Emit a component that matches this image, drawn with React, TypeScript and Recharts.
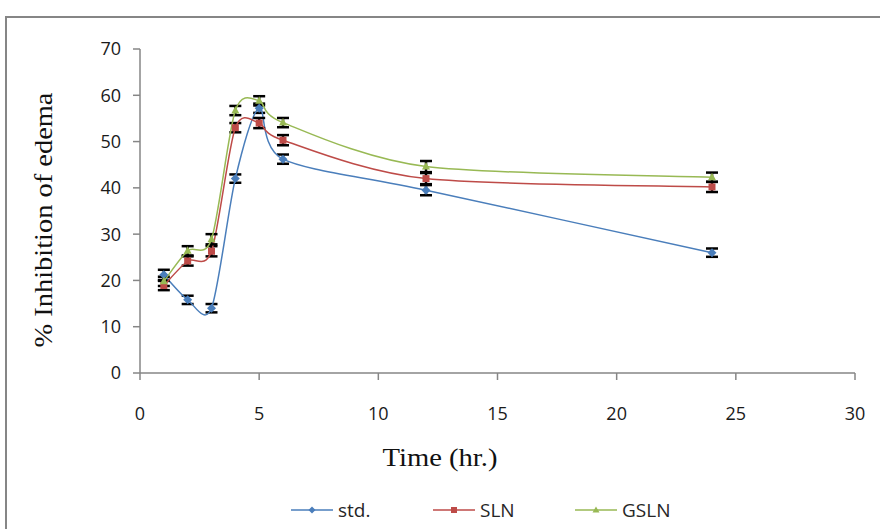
import React from "react";
import {
  ErrorBar,
  Label,
  Legend,
  Line,
  LineChart,
  XAxis,
  YAxis,
} from "recharts";

// time points (hr.)
const hours = [1, 2, 3, 4, 5, 6, 12, 24];

const stdValues = [21.2, 15.8, 14.0, 42.0, 57.2, 46.2, 39.5, 26.0];
const stdErrors = [1.1, 0.9, 0.9, 0.9, 1.0, 1.0, 1.1, 0.9];

const slnValues = [18.9, 24.2, 26.3, 53.0, 54.0, 50.3, 42.0, 40.2];
const slnErrors = [1.0, 1.0, 1.1, 1.0, 1.1, 1.1, 1.2, 1.1];

const gslnValues = [19.8, 26.4, 28.9, 56.7, 58.8, 54.1, 44.6, 42.3];
const gslnErrors = [1.0, 1.0, 1.1, 1.0, 1.0, 1.0, 1.2, 1.0];

const xTicks = [0, 5, 10, 15, 20, 25, 30];
const yTicks = [0, 10, 20, 30, 40, 50, 60, 70];

const COLORS = { std: "#4a7ebb", sln: "#be4b48", gsln: "#98b954" };
const AXIS = "#868686";
const SANS = "'Open Sans', sans-serif";
const SERIF = "'Liberation Serif', serif";

const data = hours.map((h, i) => ({
  time: h,
  std: stdValues[i],
  stdErr: stdErrors[i],
  sln: slnValues[i],
  slnErr: slnErrors[i],
  gsln: gslnValues[i],
  gslnErr: gslnErrors[i],
}));

// Excel-like smoothed line (Catmull-Rom style cubic beziers, slightly relaxed)
const SMOOTH = 0.85 / 6;
function smoothCurve(context: any) {
  let pts: number[][] = [];
  return {
    areaStart() {},
    areaEnd() {},
    lineStart() {
      pts = [];
    },
    point(x: number, y: number) {
      pts.push([+x, +y]);
    },
    lineEnd() {
      if (!pts.length) return;
      context.moveTo(pts[0][0], pts[0][1]);
      for (let i = 0; i < pts.length - 1; i++) {
        const p0 = pts[i - 1] || pts[i];
        const p1 = pts[i];
        const p2 = pts[i + 1];
        const p3 = pts[i + 2] || p2;
        context.bezierCurveTo(
          p1[0] + (p2[0] - p0[0]) * SMOOTH,
          p1[1] + (p2[1] - p0[1]) * SMOOTH,
          p2[0] - (p3[0] - p1[0]) * SMOOTH,
          p2[1] - (p3[1] - p1[1]) * SMOOTH,
          p2[0],
          p2[1]
        );
      }
    },
  };
}

const Diamond = (props: any) => {
  const { cx, cy, index } = props;
  if (cx == null || cy == null) return <g key={index} />;
  return (
    <path
      key={index}
      d={`M${cx},${cy - 4.5}L${cx + 4.5},${cy}L${cx},${cy + 4.5}L${cx - 4.5},${cy}Z`}
      fill={COLORS.std}
    />
  );
};

const Square = (props: any) => {
  const { cx, cy, index } = props;
  if (cx == null || cy == null) return <g key={index} />;
  return <rect key={index} x={cx - 3.5} y={cy - 3.5} width={7} height={7} fill={COLORS.sln} />;
};

const Triangle = (props: any) => {
  const { cx, cy, index } = props;
  if (cx == null || cy == null) return <g key={index} />;
  return (
    <path
      key={index}
      d={`M${cx},${cy - 4.5}L${cx + 4},${cy + 3}L${cx - 4},${cy + 3}Z`}
      fill={COLORS.gsln}
    />
  );
};

const legendItems = [
  { name: "std.", color: COLORS.std, shape: "diamond" },
  { name: "SLN", color: COLORS.sln, shape: "square" },
  { name: "GSLN", color: COLORS.gsln, shape: "triangle" },
];

function ChartLegend() {
  return (
    <div
      style={{
        display: "flex",
        justifyContent: "flex-start",
        paddingLeft: 291,
        fontFamily: SANS,
        fontSize: 19,
        color: "#262626",
        lineHeight: "30px",
      }}
    >
      {legendItems.map((item) => (
        <div
          key={item.name}
          style={{ display: "flex", alignItems: "center", width: 142 }}
        >
          <svg width={44} height={10} style={{ marginRight: 3 }}>
            <line x1={0} y1={5} x2={42} y2={5} stroke={item.color} strokeWidth={1.5} />
            {item.shape === "diamond" && (
              <path d="M21,1.5L24.5,5L21,8.5L17.5,5Z" fill={item.color} />
            )}
            {item.shape === "square" && (
              <rect x={18} y={2} width={6} height={6} fill={item.color} />
            )}
            {item.shape === "triangle" && (
              <path d="M21,1.5L24.5,7.5L17.5,7.5Z" fill={item.color} />
            )}
          </svg>
          <span>{item.name}</span>
        </div>
      ))}
    </div>
  );
}

const YTitle = (props: any) => {
  const { viewBox } = props;
  const cx = viewBox.x + 43;
  const cy = viewBox.y + viewBox.height / 2 + 9;
  return (
    <text
      x={cx}
      y={cy}
      transform={`rotate(-90, ${cx}, ${cy})`}
      textAnchor="middle"
      dominantBaseline="central"
      fontFamily={SERIF}
      fontSize={25}
      fontWeight={400}
      textLength={255}
      lengthAdjust="spacingAndGlyphs"
      fill="#111"
    >
      % Inhibition of edema
    </text>
  );
};

const XTitle = (props: any) => {
  const { viewBox } = props;
  const cx = viewBox.x + 300;
  const cy = viewBox.y + 84;
  return (
    <text
      x={cx}
      y={cy}
      textAnchor="middle"
      dominantBaseline="central"
      fontFamily={SERIF}
      fontSize={26}
      fontWeight={400}
      textLength={115}
      lengthAdjust="spacingAndGlyphs"
      fill="#111"
    >
      Time (hr.)
    </text>
  );
};

export default function App() {
  const tickStyle = {
    fill: "#1a1a1a",
    fontSize: 18,
    fontFamily: SANS,
  };
  return (
    <div
      style={{
        position: "absolute",
        left: 0,
        top: 0,
        width: 880,
        height: 529,
        overflow: "hidden",
        background: "#fff",
      }}
    >
      <div
        style={{
          position: "absolute",
          left: 5,
          top: 16,
          width: 920,
          height: 600,
          border: `2px solid ${AXIS}`,
        }}
      />
      <LineChart
        width={880}
        height={529}
        data={data}
        margin={{ top: 49, right: 25, left: 0, bottom: 31 }}
      >
        <XAxis
          dataKey="time"
          type="number"
          domain={[0, 30]}
          ticks={xTicks}
          allowDataOverflow
          height={95}
          stroke={AXIS}
          strokeWidth={1.5}
          tickSize={7}
          tickMargin={27}
          tick={tickStyle}
        >
          <Label content={<XTitle />} />
        </XAxis>
        <YAxis
          type="number"
          domain={[0, 70]}
          ticks={yTicks}
          width={140}
          stroke={AXIS}
          strokeWidth={1.5}
          tickSize={7}
          tickMargin={12}
          tick={tickStyle}
        >
          <Label content={<YTitle />} />
        </YAxis>
        <Legend
          verticalAlign="bottom"
          height={30}
          wrapperStyle={{ top: 495, bottom: "auto", left: 0, width: 880 }}
          content={<ChartLegend />}
        />
        <Line
          dataKey="std"
          name="std."
          type={smoothCurve as any}
          stroke={COLORS.std}
          strokeWidth={1.5}
          dot={Diamond}
          activeDot={false}
          isAnimationActive={false}
        >
          <ErrorBar dataKey="stdErr" direction="y" width={6} stroke="#000" strokeWidth={2.5} />
        </Line>
        <Line
          dataKey="sln"
          name="SLN"
          type={smoothCurve as any}
          stroke={COLORS.sln}
          strokeWidth={1.5}
          dot={Square}
          activeDot={false}
          isAnimationActive={false}
        >
          <ErrorBar dataKey="slnErr" direction="y" width={6} stroke="#000" strokeWidth={2.5} />
        </Line>
        <Line
          dataKey="gsln"
          name="GSLN"
          type={smoothCurve as any}
          stroke={COLORS.gsln}
          strokeWidth={1.5}
          dot={Triangle}
          activeDot={false}
          isAnimationActive={false}
        >
          <ErrorBar dataKey="gslnErr" direction="y" width={6} stroke="#000" strokeWidth={2.5} />
        </Line>
      </LineChart>
    </div>
  );
}
